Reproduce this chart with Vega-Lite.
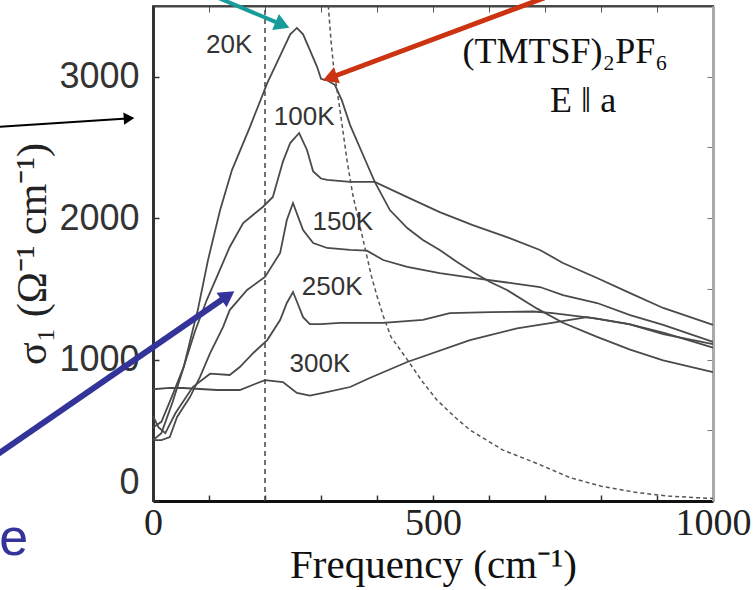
{
  "$schema": "https://vega.github.io/schema/vega-lite/v6.json",
  "width": 560,
  "height": 495,
  "autosize": {"type": "none"},
  "padding": {"left": 153, "top": 6, "right": 40, "bottom": 89},
  "background": "white",
  "config": {"view": {"stroke": "#555", "strokeWidth": 2}},
  "datasets": {
    "curves": [
      {"T": "20K", "f": 0, "s": 430}, {"T": "20K", "f": 15, "s": 480}, {"T": "20K", "f": 35, "s": 700}, {"T": "20K", "f": 55, "s": 950}, {"T": "20K", "f": 71, "s": 1210}, {"T": "20K", "f": 80, "s": 1350}, {"T": "20K", "f": 98, "s": 1700}, {"T": "20K", "f": 120, "s": 2060}, {"T": "20K", "f": 141, "s": 2340}, {"T": "20K", "f": 173, "s": 2644}, {"T": "20K", "f": 204, "s": 2955}, {"T": "20K", "f": 232, "s": 3189}, {"T": "20K", "f": 245, "s": 3300}, {"T": "20K", "f": 257, "s": 3345}, {"T": "20K", "f": 268, "s": 3300}, {"T": "20K", "f": 280, "s": 3190}, {"T": "20K", "f": 293, "s": 3070}, {"T": "20K", "f": 300, "s": 2985}, {"T": "20K", "f": 311, "s": 2975}, {"T": "20K", "f": 325, "s": 2941}, {"T": "20K", "f": 337, "s": 2835}, {"T": "20K", "f": 352, "s": 2658}, {"T": "20K", "f": 379, "s": 2411}, {"T": "20K", "f": 396, "s": 2256}, {"T": "20K", "f": 423, "s": 2057}, {"T": "20K", "f": 454, "s": 1930}, {"T": "20K", "f": 482, "s": 1845}, {"T": "20K", "f": 512, "s": 1775}, {"T": "20K", "f": 543, "s": 1690}, {"T": "20K", "f": 571, "s": 1619}, {"T": "20K", "f": 602, "s": 1548}, {"T": "20K", "f": 632, "s": 1492}, {"T": "20K", "f": 686, "s": 1360}, {"T": "20K", "f": 732, "s": 1260}, {"T": "20K", "f": 793, "s": 1160}, {"T": "20K", "f": 852, "s": 1070}, {"T": "20K", "f": 911, "s": 995}, {"T": "20K", "f": 1000, "s": 912},
      {"T": "100K", "f": 0, "s": 520}, {"T": "100K", "f": 15, "s": 560}, {"T": "100K", "f": 35, "s": 750}, {"T": "100K", "f": 55, "s": 950}, {"T": "100K", "f": 75, "s": 1200}, {"T": "100K", "f": 96, "s": 1421}, {"T": "100K", "f": 114, "s": 1584}, {"T": "100K", "f": 137, "s": 1796}, {"T": "100K", "f": 161, "s": 1965}, {"T": "100K", "f": 196, "s": 2079}, {"T": "100K", "f": 214, "s": 2150}, {"T": "100K", "f": 232, "s": 2400}, {"T": "100K", "f": 245, "s": 2531}, {"T": "100K", "f": 261, "s": 2602}, {"T": "100K", "f": 275, "s": 2482}, {"T": "100K", "f": 286, "s": 2330}, {"T": "100K", "f": 300, "s": 2280}, {"T": "100K", "f": 311, "s": 2270}, {"T": "100K", "f": 352, "s": 2256}, {"T": "100K", "f": 396, "s": 2256}, {"T": "100K", "f": 454, "s": 2149}, {"T": "100K", "f": 512, "s": 2043}, {"T": "100K", "f": 571, "s": 1951}, {"T": "100K", "f": 632, "s": 1866}, {"T": "100K", "f": 691, "s": 1775}, {"T": "100K", "f": 732, "s": 1683}, {"T": "100K", "f": 793, "s": 1577}, {"T": "100K", "f": 852, "s": 1470}, {"T": "100K", "f": 911, "s": 1365}, {"T": "100K", "f": 1000, "s": 1245},
      {"T": "150K", "f": 0, "s": 430}, {"T": "150K", "f": 15, "s": 430}, {"T": "150K", "f": 30, "s": 452}, {"T": "150K", "f": 43, "s": 594}, {"T": "150K", "f": 66, "s": 735}, {"T": "150K", "f": 84, "s": 877}, {"T": "150K", "f": 102, "s": 1046}, {"T": "150K", "f": 125, "s": 1230}, {"T": "150K", "f": 137, "s": 1350}, {"T": "150K", "f": 168, "s": 1492}, {"T": "150K", "f": 200, "s": 1584}, {"T": "150K", "f": 227, "s": 1754}, {"T": "150K", "f": 239, "s": 1987}, {"T": "150K", "f": 250, "s": 2107}, {"T": "150K", "f": 260, "s": 2000}, {"T": "150K", "f": 268, "s": 1916}, {"T": "150K", "f": 286, "s": 1824}, {"T": "150K", "f": 311, "s": 1789}, {"T": "150K", "f": 352, "s": 1775}, {"T": "150K", "f": 382, "s": 1770}, {"T": "150K", "f": 411, "s": 1704}, {"T": "150K", "f": 454, "s": 1655}, {"T": "150K", "f": 512, "s": 1612}, {"T": "150K", "f": 571, "s": 1577}, {"T": "150K", "f": 632, "s": 1545}, {"T": "150K", "f": 691, "s": 1513}, {"T": "150K", "f": 732, "s": 1456}, {"T": "150K", "f": 793, "s": 1400}, {"T": "150K", "f": 852, "s": 1315}, {"T": "150K", "f": 911, "s": 1245}, {"T": "150K", "f": 1000, "s": 1125},
      {"T": "250K", "f": 0, "s": 600}, {"T": "250K", "f": 10, "s": 520}, {"T": "250K", "f": 22, "s": 480}, {"T": "250K", "f": 40, "s": 620}, {"T": "250K", "f": 71, "s": 806}, {"T": "250K", "f": 102, "s": 900}, {"T": "250K", "f": 137, "s": 891}, {"T": "250K", "f": 155, "s": 947}, {"T": "250K", "f": 180, "s": 1050}, {"T": "250K", "f": 204, "s": 1138}, {"T": "250K", "f": 227, "s": 1280}, {"T": "250K", "f": 239, "s": 1400}, {"T": "250K", "f": 250, "s": 1478}, {"T": "250K", "f": 258, "s": 1400}, {"T": "250K", "f": 268, "s": 1300}, {"T": "250K", "f": 280, "s": 1250}, {"T": "250K", "f": 300, "s": 1250}, {"T": "250K", "f": 334, "s": 1259}, {"T": "250K", "f": 411, "s": 1259}, {"T": "250K", "f": 482, "s": 1280}, {"T": "250K", "f": 530, "s": 1329}, {"T": "250K", "f": 602, "s": 1336}, {"T": "250K", "f": 679, "s": 1340}, {"T": "250K", "f": 714, "s": 1329}, {"T": "250K", "f": 793, "s": 1290}, {"T": "250K", "f": 850, "s": 1250}, {"T": "250K", "f": 911, "s": 1190}, {"T": "250K", "f": 1000, "s": 1085},
      {"T": "300K", "f": 0, "s": 790}, {"T": "300K", "f": 30, "s": 800}, {"T": "300K", "f": 54, "s": 799}, {"T": "300K", "f": 114, "s": 785}, {"T": "300K", "f": 155, "s": 785}, {"T": "300K", "f": 200, "s": 855}, {"T": "300K", "f": 232, "s": 841}, {"T": "300K", "f": 257, "s": 764}, {"T": "300K", "f": 280, "s": 745}, {"T": "300K", "f": 304, "s": 764}, {"T": "300K", "f": 352, "s": 806}, {"T": "300K", "f": 387, "s": 870}, {"T": "300K", "f": 454, "s": 983}, {"T": "300K", "f": 566, "s": 1138}, {"T": "300K", "f": 650, "s": 1220}, {"T": "300K", "f": 712, "s": 1259}, {"T": "300K", "f": 775, "s": 1300}, {"T": "300K", "f": 850, "s": 1250}, {"T": "300K", "f": 911, "s": 1180}, {"T": "300K", "f": 1000, "s": 1110}
    ],
    "dashed": [
      {"f": 310, "s": 3700}, {"f": 314, "s": 3450}, {"f": 318, "s": 3250}, {"f": 323, "s": 3050}, {"f": 330, "s": 2870}, {"f": 338, "s": 2650}, {"f": 346, "s": 2420}, {"f": 357, "s": 2160}, {"f": 375, "s": 1850}, {"f": 390, "s": 1590}, {"f": 400, "s": 1450}, {"f": 411, "s": 1310}, {"f": 425, "s": 1160}, {"f": 454, "s": 1000}, {"f": 480, "s": 850}, {"f": 507, "s": 714}, {"f": 540, "s": 590}, {"f": 566, "s": 502}, {"f": 600, "s": 420}, {"f": 625, "s": 360}, {"f": 686, "s": 265}, {"f": 745, "s": 165}, {"f": 800, "s": 105}, {"f": 864, "s": 60}, {"f": 920, "s": 35}, {"f": 982, "s": 21}, {"f": 1000, "s": 18}
    ],
    "vline": [{"f": 200, "s0": 0, "s1": 3500}],
    "labels": [
      {"label": "20K", "f": 136, "s": 3224},
      {"label": "100K", "f": 270, "s": 2715},
      {"label": "150K", "f": 339, "s": 1973},
      {"label": "250K", "f": 320, "s": 1513},
      {"label": "300K", "f": 298, "s": 969}
    ],
    "notes": [
      {"label": "(TMTSF)₂PF₆", "f": 736, "s": 3175},
      {"label": "E ‖ a", "f": 768, "s": 2828}
    ],
    "teal": [{"x0": 75, "y0": 3627, "x1": 227, "y1": 3373}],
    "red": [{"x0": 727, "y0": 3599, "x1": 320, "y1": 2998}],
    "black": [{"x0": -282, "y0": 2644, "x1": -46, "y1": 2705}],
    "blue": [{"x0": -282, "y0": 318, "x1": 130, "y1": 1442}],
    "word": [{"label": "e", "f": -223, "s": -382}]
  },
  "resolve": {"axis": {"x": "independent", "y": "independent"}},
  "layer": [
    {
      "data": {"name": "curves"},
      "mark": {"type": "line", "color": "#4a4a4a", "strokeWidth": 1.8},
      "encoding": {
        "x": {"field": "f", "type": "quantitative", "scale": {"domain": [0, 1000], "nice": false, "zero": false},
          "axis": {"orient": "bottom", "values": [0, 100, 200, 300, 400, 500, 600, 700, 800, 900, 1000], "format": "d",
            "labelExpr": "datum.value % 500 === 0 ? datum.label : ''", "grid": false, "tickSize": -6, "tickColor": "#333", "tickWidth": 1.5,
            "domainColor": "#111", "domainWidth": 3, "labelFont": "Liberation Serif", "labelFontSize": 38, "labelColor": "#222",
            "labelPadding": 9, "labelFlush": false, "labelOverlap": false,
            "title": "Frequency (cm⁻¹)", "titleFont": "Liberation Serif", "titleFontSize": 41, "titleFontWeight": "normal", "titleColor": "#111", "titlePadding": 3}},
        "y": {"field": "s", "type": "quantitative", "scale": {"domain": [0, 3500], "nice": false},
          "axis": {"orient": "left", "values": [0, 1000, 2000, 3000], "format": "d", "grid": false, "tickSize": -6, "tickColor": "#333", "tickWidth": 1.5,
            "domainColor": "#333", "domainWidth": 3, "labelFont": "Liberation Sans", "labelFontSize": 36, "labelColor": "#333", "labelPadding": 20, "labelFlush": true,
            "title": "σ₁ (Ω⁻¹ cm⁻¹)", "titleFont": "Liberation Serif", "titleFontSize": 42, "titleFontWeight": "normal", "titleColor": "#222", "titlePadding": 4}},
        "detail": {"field": "T"}
      }
    },
    {
      "data": {"name": "vline"},
      "mark": {"type": "rule", "color": "#444", "strokeWidth": 1.5, "strokeDash": [5, 4]},
      "encoding": {
        "x": {"field": "f", "type": "quantitative", "scale": {"domain": [0, 1000], "nice": false, "zero": false},
          "axis": {"orient": "top", "values": [100, 200, 300, 400, 500, 600, 700, 800, 900], "labels": false, "title": null, "grid": false, "tickSize": -6, "tickColor": "#555", "domainColor": "#444", "domainWidth": 2}},
        "y": {"field": "s0", "type": "quantitative", "scale": {"domain": [0, 3500], "nice": false},
          "axis": {"orient": "right", "values": [500, 1000, 1500, 2000, 2500, 3000], "labels": false, "title": null, "grid": false, "tickSize": -6, "tickColor": "#777", "domainColor": "#aaa", "domainWidth": 3}},
        "y2": {"field": "s1"}
      }
    },
    {
      "data": {"name": "dashed"},
      "mark": {"type": "line", "color": "#555", "strokeWidth": 1.5, "strokeDash": [4, 3], "clip": true},
      "encoding": {
        "x": {"field": "f", "type": "quantitative", "axis": null},
        "y": {"field": "s", "type": "quantitative", "axis": null}
      }
    },
    {
      "data": {"name": "labels"},
      "mark": {"type": "text", "font": "Liberation Sans", "fontSize": 26, "color": "#333", "align": "center", "baseline": "middle"},
      "encoding": {
        "x": {"field": "f", "type": "quantitative", "axis": null},
        "y": {"field": "s", "type": "quantitative", "axis": null},
        "text": {"field": "label"}
      }
    },
    {
      "data": {"name": "notes"},
      "mark": {"type": "text", "font": "Liberation Serif", "fontSize": 36, "color": "#111", "align": "center", "baseline": "middle"},
      "encoding": {
        "x": {"field": "f", "type": "quantitative", "axis": null},
        "y": {"field": "s", "type": "quantitative", "axis": null},
        "text": {"field": "label"}
      }
    },
    {
      "data": {"name": "teal"},
      "mark": {"type": "rule", "color": "#179c9a", "strokeWidth": 4},
      "encoding": {
        "x": {"field": "x0", "type": "quantitative", "axis": null}, "y": {"field": "y0", "type": "quantitative", "axis": null},
        "x2": {"field": "x1"}, "y2": {"field": "y1"}
      }
    },
    {
      "data": {"name": "teal"},
      "mark": {"type": "point", "shape": "triangle", "filled": true, "color": "#179c9a", "opacity": 1, "size": 300, "angle": 113},
      "encoding": {
        "x": {"field": "x1", "type": "quantitative", "axis": null}, "y": {"field": "y1", "type": "quantitative", "axis": null}
      }
    },
    {
      "data": {"name": "red"},
      "mark": {"type": "rule", "color": "#cc3311", "strokeWidth": 5},
      "encoding": {
        "x": {"field": "x0", "type": "quantitative", "axis": null}, "y": {"field": "y0", "type": "quantitative", "axis": null},
        "x2": {"field": "x1"}, "y2": {"field": "y1"}
      }
    },
    {
      "data": {"name": "red"},
      "mark": {"type": "point", "shape": "triangle", "filled": true, "color": "#cc3311", "opacity": 1, "size": 300, "angle": 249.5},
      "encoding": {
        "x": {"field": "x1", "type": "quantitative", "axis": null}, "y": {"field": "y1", "type": "quantitative", "axis": null}
      }
    },
    {
      "data": {"name": "black"},
      "mark": {"type": "rule", "color": "#000", "strokeWidth": 2},
      "encoding": {
        "x": {"field": "x0", "type": "quantitative", "axis": null}, "y": {"field": "y0", "type": "quantitative", "axis": null},
        "x2": {"field": "x1"}, "y2": {"field": "y1"}
      }
    },
    {
      "data": {"name": "black"},
      "mark": {"type": "point", "shape": "triangle", "filled": true, "color": "#000", "opacity": 1, "size": 150, "angle": 86.3},
      "encoding": {
        "x": {"field": "x1", "type": "quantitative", "axis": null}, "y": {"field": "y1", "type": "quantitative", "axis": null}
      }
    },
    {
      "data": {"name": "blue"},
      "mark": {"type": "rule", "color": "#333399", "strokeWidth": 6},
      "encoding": {
        "x": {"field": "x0", "type": "quantitative", "axis": null}, "y": {"field": "y0", "type": "quantitative", "axis": null},
        "x2": {"field": "x1"}, "y2": {"field": "y1"}
      }
    },
    {
      "data": {"name": "blue"},
      "mark": {"type": "point", "shape": "triangle", "filled": true, "color": "#333399", "opacity": 1, "size": 320, "angle": 55.4},
      "encoding": {
        "x": {"field": "x1", "type": "quantitative", "axis": null}, "y": {"field": "y1", "type": "quantitative", "axis": null}
      }
    },
    {
      "data": {"name": "word"},
      "mark": {"type": "text", "font": "Liberation Sans", "fontSize": 52, "color": "#333399", "align": "right", "baseline": "alphabetic"},
      "encoding": {
        "x": {"field": "f", "type": "quantitative", "axis": null},
        "y": {"field": "s", "type": "quantitative", "axis": null},
        "text": {"field": "label"}
      }
    }
  ]
}
